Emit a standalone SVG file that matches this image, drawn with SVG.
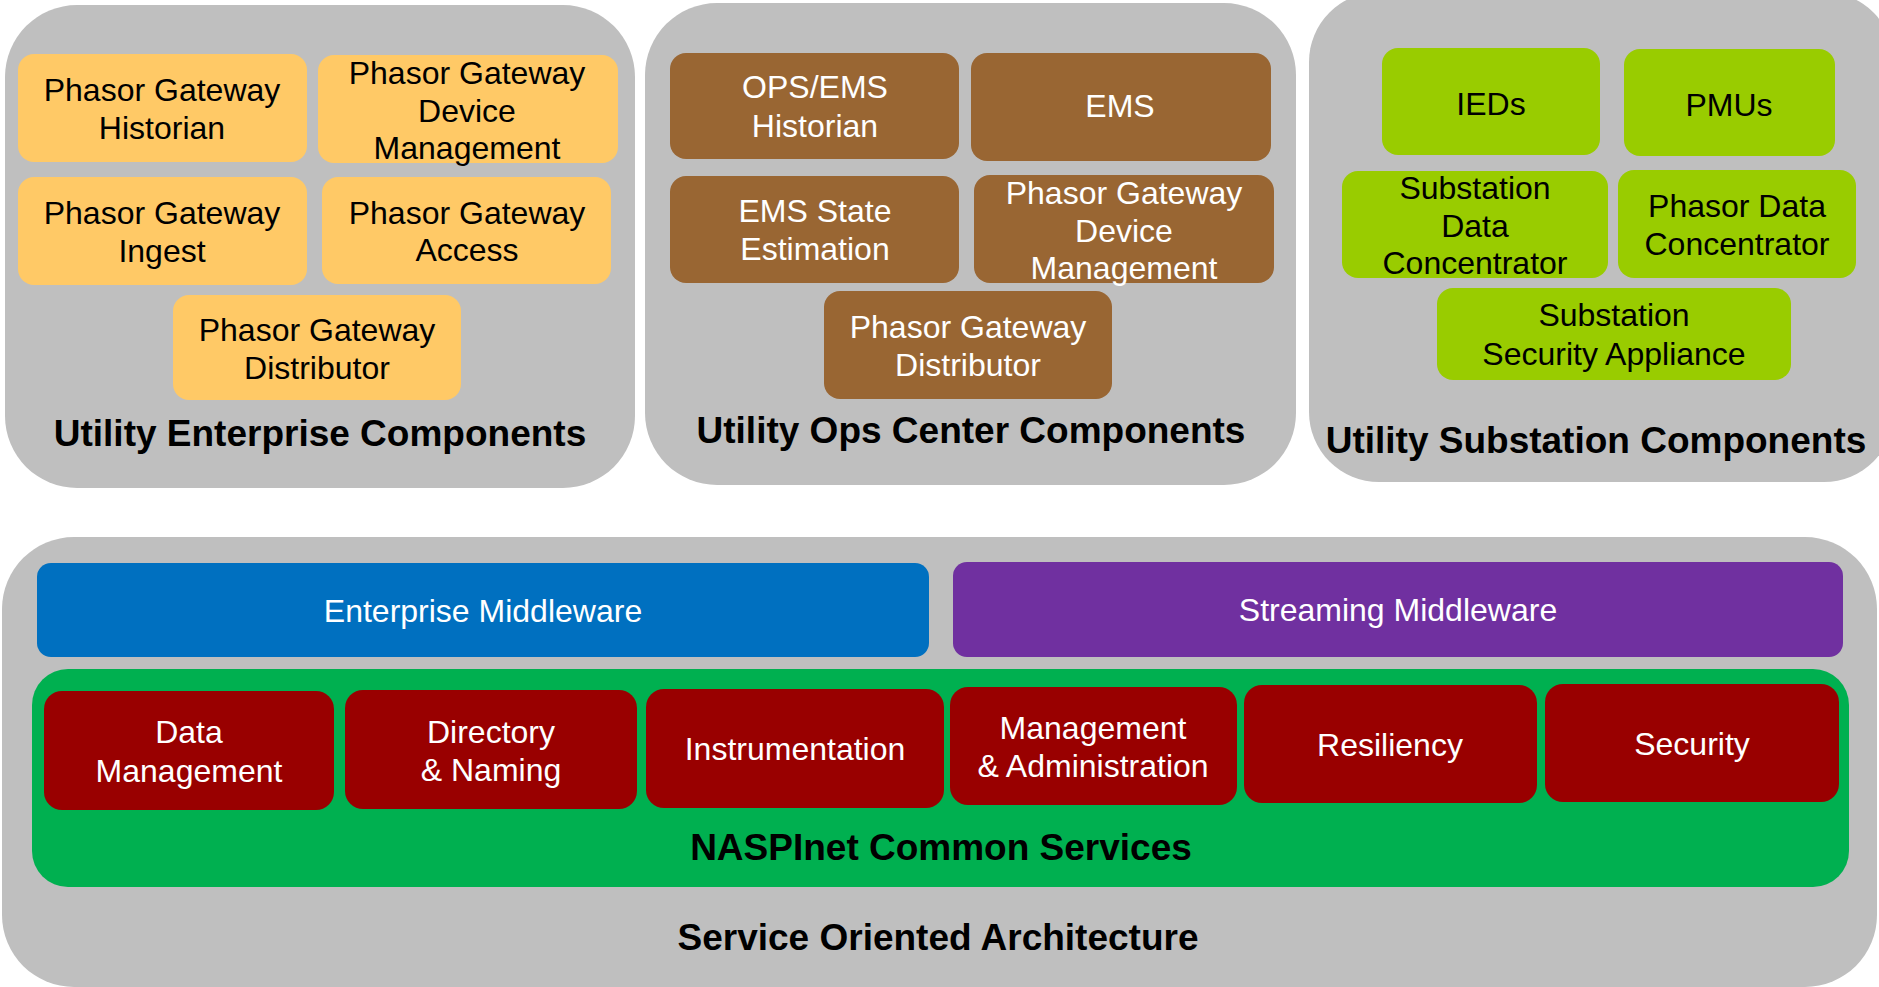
<svg xmlns="http://www.w3.org/2000/svg" width="1879" height="987" viewBox="0 0 1879 987">
  <style>
    .panel { fill: #BFBFBF; }
    .ent { fill: #FFC966; }
    .ops { fill: #996633; }
    .sub { fill: #99CC00; }
    .svc { fill: #990000; }
    .t { font-family: "Liberation Sans", Arial, sans-serif; font-size: 32px; text-anchor: middle; }
    .dark { fill: #000000; }
    .light { fill: #FFFFFF; }
    .title { font-family: "Liberation Sans", Arial, sans-serif; font-size: 37px; font-weight: bold; text-anchor: middle; fill: #000000; }
  </style>
  <rect width="1879" height="987" fill="#FFFFFF"/>

  <!-- Utility Enterprise Components -->
  <g id="enterprise">
    <rect class="panel" x="5" y="5" width="630" height="483" rx="72"/>
    <text class="title" x="320" y="446">Utility Enterprise Components</text>
  </g>
  <g id="ent-historian">
    <rect class="ent" x="18" y="54" width="289" height="108" rx="16"/>
    <text class="t dark"><tspan x="162" y="101">Phasor Gateway</tspan><tspan x="162" y="139">Historian</tspan></text>
  </g>
  <g id="ent-device-mgmt">
    <rect class="ent" x="318" y="55" width="300" height="108" rx="16"/>
    <text class="t dark"><tspan x="467" y="84">Phasor Gateway</tspan><tspan x="467" y="122">Device</tspan><tspan x="467" y="159">Management</tspan></text>
  </g>
  <g id="ent-ingest">
    <rect class="ent" x="18" y="177" width="289" height="108" rx="16"/>
    <text class="t dark"><tspan x="162" y="224">Phasor Gateway</tspan><tspan x="162" y="262">Ingest</tspan></text>
  </g>
  <g id="ent-access">
    <rect class="ent" x="322" y="177" width="289" height="107" rx="16"/>
    <text class="t dark"><tspan x="467" y="224">Phasor Gateway</tspan><tspan x="467" y="261">Access</tspan></text>
  </g>
  <g id="ent-distributor">
    <rect class="ent" x="173" y="295" width="288" height="105" rx="16"/>
    <text class="t dark"><tspan x="317" y="341">Phasor Gateway</tspan><tspan x="317" y="379">Distributor</tspan></text>
  </g>

  <!-- Utility Ops Center Components -->
  <g id="opscenter">
    <rect class="panel" x="645" y="3" width="651" height="482" rx="72"/>
    <text class="title" x="971" y="443">Utility Ops Center Components</text>
  </g>
  <g id="ops-historian">
    <rect class="ops" x="670" y="53" width="289" height="106" rx="16"/>
    <text class="t light"><tspan x="815" y="98">OPS/EMS</tspan><tspan x="815" y="137">Historian</tspan></text>
  </g>
  <g id="ops-ems">
    <rect class="ops" x="971" y="53" width="300" height="108" rx="16"/>
    <text class="t light" x="1120" y="117">EMS</text>
  </g>
  <g id="ops-state-estimation">
    <rect class="ops" x="670" y="176" width="289" height="107" rx="16"/>
    <text class="t light"><tspan x="815" y="222">EMS State</tspan><tspan x="815" y="260">Estimation</tspan></text>
  </g>
  <g id="ops-device-mgmt">
    <rect class="ops" x="974" y="175" width="300" height="108" rx="16"/>
    <text class="t light"><tspan x="1124" y="204">Phasor Gateway</tspan><tspan x="1124" y="242">Device</tspan><tspan x="1124" y="279">Management</tspan></text>
  </g>
  <g id="ops-distributor">
    <rect class="ops" x="824" y="291" width="288" height="108" rx="16"/>
    <text class="t light"><tspan x="968" y="338">Phasor Gateway</tspan><tspan x="968" y="376">Distributor</tspan></text>
  </g>

  <!-- Utility Substation Components (runs off the top and right edges) -->
  <g id="substation">
    <rect class="panel" x="1309" y="-8" width="585" height="490" rx="70"/>
    <text class="title" x="1596" y="453">Utility Substation Components</text>
  </g>
  <g id="sub-ieds">
    <rect class="sub" x="1382" y="48" width="218" height="107" rx="16"/>
    <text class="t dark" x="1491" y="115">IEDs</text>
  </g>
  <g id="sub-pmus">
    <rect class="sub" x="1624" y="49" width="211" height="107" rx="16"/>
    <text class="t dark" x="1729" y="116">PMUs</text>
  </g>
  <g id="sub-sdc">
    <rect class="sub" x="1342" y="171" width="266" height="107" rx="16"/>
    <text class="t dark"><tspan x="1475" y="199">Substation</tspan><tspan x="1475" y="237">Data</tspan><tspan x="1475" y="274">Concentrator</tspan></text>
  </g>
  <g id="sub-pdc">
    <rect class="sub" x="1618" y="170" width="238" height="108" rx="16"/>
    <text class="t dark"><tspan x="1737" y="217">Phasor Data</tspan><tspan x="1737" y="255">Concentrator</tspan></text>
  </g>
  <g id="sub-security-appliance">
    <rect class="sub" x="1437" y="288" width="354" height="92" rx="16"/>
    <text class="t dark"><tspan x="1614" y="326">Substation</tspan><tspan x="1614" y="365">Security Appliance</tspan></text>
  </g>

  <!-- Service Oriented Architecture -->
  <g id="soa">
    <rect class="panel" x="2" y="537" width="1875" height="450" rx="72"/>
    <text class="title" x="938" y="950">Service Oriented Architecture</text>
  </g>
  <g id="enterprise-middleware">
    <rect x="37" y="563" width="892" height="94" rx="14" fill="#0070C0"/>
    <text class="t light" x="483" y="622">Enterprise Middleware</text>
  </g>
  <g id="streaming-middleware">
    <rect x="953" y="562" width="890" height="95" rx="14" fill="#7030A0"/>
    <text class="t light" x="1398" y="621">Streaming Middleware</text>
  </g>
  <g id="naspinet">
    <rect x="32" y="669" width="1817" height="218" rx="36" fill="#00B050"/>
    <text class="title" x="941" y="860">NASPInet Common Services</text>
  </g>
  <g id="svc-data-mgmt">
    <rect class="svc" x="44" y="691" width="290" height="119" rx="18"/>
    <text class="t light"><tspan x="189" y="743">Data</tspan><tspan x="189" y="782">Management</tspan></text>
  </g>
  <g id="svc-directory">
    <rect class="svc" x="345" y="690" width="292" height="119" rx="18"/>
    <text class="t light"><tspan x="491" y="743">Directory</tspan><tspan x="491" y="781">&amp; Naming</tspan></text>
  </g>
  <g id="svc-instrumentation">
    <rect class="svc" x="646" y="689" width="298" height="119" rx="18"/>
    <text class="t light" x="795" y="760">Instrumentation</text>
  </g>
  <g id="svc-mgmt-admin">
    <rect class="svc" x="950" y="687" width="287" height="118" rx="18"/>
    <text class="t light"><tspan x="1093" y="739">Management</tspan><tspan x="1093" y="777">&amp; Administration</tspan></text>
  </g>
  <g id="svc-resiliency">
    <rect class="svc" x="1244" y="685" width="293" height="118" rx="18"/>
    <text class="t light" x="1390" y="756">Resiliency</text>
  </g>
  <g id="svc-security">
    <rect class="svc" x="1545" y="684" width="294" height="118" rx="18"/>
    <text class="t light" x="1692" y="755">Security</text>
  </g>

  <!-- no connectors in this layered view -->
  <g id="connectors"/>
</svg>
